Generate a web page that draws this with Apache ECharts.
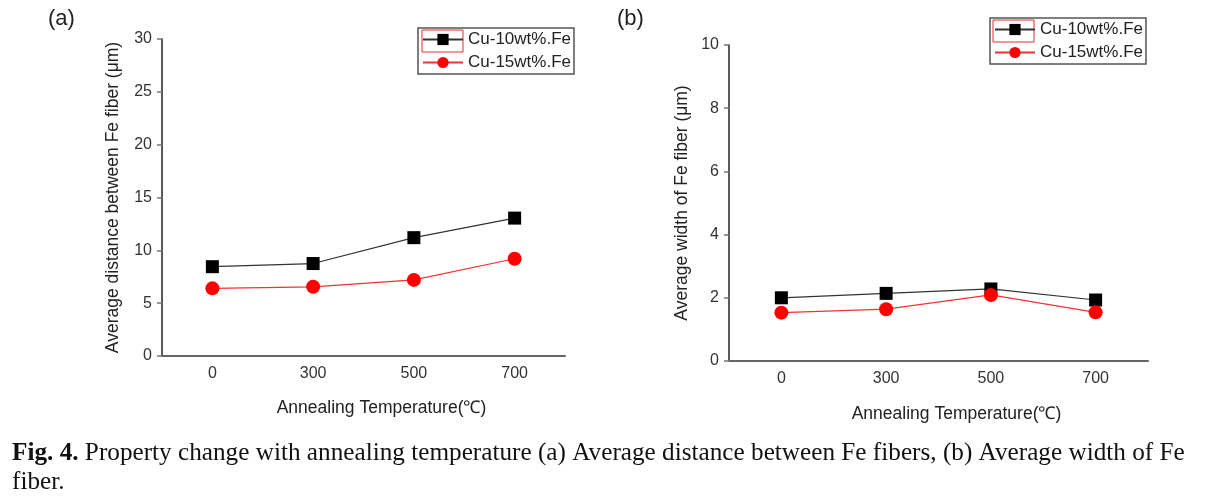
<!DOCTYPE html>
<html>
<head>
<meta charset="utf-8">
<script src="https://cdn.jsdelivr.net/npm/echarts@6/dist/echarts.min.js"></script>
<style>
html,body{margin:0;padding:0;background:#fff;}
#c{width:1207px;height:500px;}
</style>
</head>
<body>
<div id="c"></div>
<script>
const temps = ['0', '300', '500', '700'];
const seriesNames = ['Cu-10wt%.Fe', 'Cu-15wt%.Fe'];
const distCu10 = [8.45, 8.75, 11.2, 13.05];
const distCu15 = [6.4, 6.55, 7.2, 9.2];
const widthCu10 = [2.0, 2.14, 2.28, 1.93];
const widthCu15 = [1.53, 1.64, 2.09, 1.54];
const distTicks = {min: 0, max: 30, interval: 5};
const widthTicks = {min: 0, max: 10, interval: 2};

const SANS = 'Liberation Sans, Arial, sans-serif';
const SERIF = 'Liberation Serif, Times New Roman, serif';
const grids = [
  {left: 162, top: 39, width: 403, height: 317},
  {left: 729, top: 45, width: 419, height: 316}
];

function xAxis(i, gap) {
  return {
    type: 'category', gridIndex: i, data: temps, boundaryGap: true,
    name: 'Annealing Temperature(\u2103)', nameLocation: 'middle', nameGap: gap,
    nameTextStyle: {fontFamily: SANS, fontSize: 17.5, color: '#222', padding: [0, 0, 0, 36]},
    axisLine: {lineStyle: {color: '#666', width: 2}},
    axisTick: {alignWithLabel: true, length: 5, lineStyle: {color: '#444', width: 1.5}},
    axisLabel: {fontFamily: SANS, fontSize: 16, color: '#333', margin: 10},
    splitLine: {show: false}
  };
}
function yAxis(i, t, name, gap) {
  return {
    type: 'value', gridIndex: i, min: t.min, max: t.max, interval: t.interval,
    name: name, nameLocation: 'middle', nameGap: gap, nameRotate: 90,
    nameTextStyle: {fontFamily: SANS, fontSize: 17.5, color: '#222'},
    axisLine: {show: true, lineStyle: {color: '#222', width: 1.5}},
    axisTick: {show: true, length: 5, lineStyle: {color: '#777', width: 1.5}},
    axisLabel: {fontFamily: SANS, fontSize: 16, color: '#333', margin: 10},
    splitLine: {show: false}
  };
}
function series(i, name, data, isRed) {
  return {
    type: 'line', name: name, xAxisIndex: i, yAxisIndex: i, data: data,
    symbol: isRed ? 'circle' : 'rect', symbolSize: isRed ? 14 : 13,
    itemStyle: {color: isRed ? '#ff0000' : '#000'},
    lineStyle: {color: isRed ? '#ee3333' : '#333', width: 1.2},
    z: isRed ? 3 : 2
  };
}
function legend(left, top) {
  return {
    data: seriesNames.map(n => ({name: n})),
    orient: 'vertical', left: left, top: top,
    itemWidth: 40, itemHeight: 14, itemGap: 6,
    padding: [3, 3, 3, 4],
    borderColor: '#555', borderWidth: 1.5,
    textStyle: {fontFamily: SANS, fontSize: 17, color: '#222'},
    selectedMode: false
  };
}

const chart = echarts.init(document.getElementById('c'), null, {renderer: 'canvas'});
chart.setOption({
  backgroundColor: '#fff',
  animation: false,
  grid: grids,
  xAxis: [xAxis(0, 43), xAxis(1, 44)],
  yAxis: [
    yAxis(0, distTicks, 'Average distance between Fe fiber (\u03bcm)', 40),
    yAxis(1, widthTicks, 'Average width of Fe fiber (\u03bcm)', 38)
  ],
  legend: [legend(418, 28), legend(990, 18)],
  series: [
    series(0, seriesNames[0], distCu10, false),
    series(0, seriesNames[1], distCu15, true),
    series(1, seriesNames[0], widthCu10, false),
    series(1, seriesNames[1], widthCu15, true)
  ],
  graphic: [
    {type: 'text', left: 48, top: 8, style: {text: '(a)', fontFamily: SANS, fontSize: 22, fill: '#222'}},
    {type: 'text', left: 617, top: 8, style: {text: '(b)', fontFamily: SANS, fontSize: 22, fill: '#222'}},
    {type: 'rect', shape: {x: 422, y: 30, width: 41, height: 22}, style: {fill: 'none', stroke: '#e03030', lineWidth: 1}},
    {type: 'rect', shape: {x: 993, y: 20, width: 41, height: 22}, style: {fill: 'none', stroke: '#e03030', lineWidth: 1}},
    {type: 'text', x: 12, y: 439, scaleX: 0.97, style: {
      text: '{b|Fig. 4.} Property change with annealing temperature (a) Average distance between Fe fibers, (b) Average width of Fe\nfiber.',
      fontFamily: SERIF, fontSize: 26, fill: '#111', lineHeight: 29,
      rich: {b: {fontFamily: SERIF, fontSize: 26, fontWeight: 'bold', fill: '#111'}}
    }}
  ]
});
</script>
</body>
</html>
